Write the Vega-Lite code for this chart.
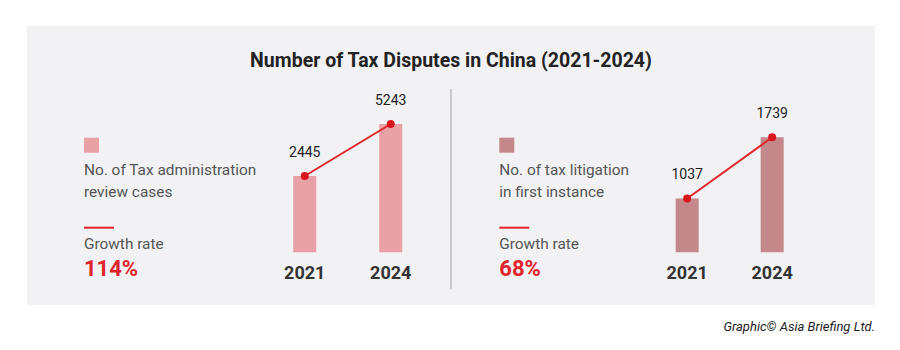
{
  "$schema": "https://vega.github.io/schema/vega-lite/v6.json",
  "width": 848,
  "height": 279,
  "autosize": {"type": "none"},
  "padding": {"left": 27, "top": 26, "right": 25, "bottom": 45},
  "background": "#ffffff",
  "view": {"fill": "#f2f2f4", "stroke": null},
  "config": {"font": "Roboto"},
  "datasets": {
    "cases": [
      {"panel": "left", "year": 2021, "value": 2445},
      {"panel": "left", "year": 2024, "value": 5243},
      {"panel": "right", "year": 2021, "value": 1037},
      {"panel": "right", "year": 2024, "value": 1739}
    ],
    "panels": [
      {"panel": "left", "series": ["No. of Tax administration", "review cases"], "growth": "114%"},
      {"panel": "right", "series": ["No. of tax litigation", "in first instance"], "growth": "68%"}
    ]
  },
  "resolve": {"scale": {"x": "independent", "y": "independent", "color": "independent"}},
  "layer": [
    {
      "data": {"name": "panels"},
      "layer": [
        {
          "mark": {"type": "square", "size": 225, "opacity": 1},
          "encoding": {
            "x": {"field": "panel", "type": "nominal", "axis": null, "bandPosition": 0.02, "scale": {"type": "band", "domain": ["left", "right"], "paddingInner": 0.0953, "paddingOuter": 0.0686, "align": 1}},
            "y": {"datum": 119.2, "type": "quantitative", "axis": null, "scale": {"domain": [0, 279], "reverse": true, "nice": false, "zero": false}},
            "color": {"field": "panel", "type": "nominal", "legend": null, "scale": {"domain": ["left", "right"], "range": ["#e8a1a5", "#c4878a"]}}
          }
        },
        {
          "mark": {"type": "text", "align": "left", "baseline": "alphabetic", "fontSize": 15.4, "lineHeight": 22, "color": "#555555"},
          "encoding": {
            "x": {"field": "panel", "type": "nominal", "axis": null, "bandPosition": 0, "scale": {"type": "band", "domain": ["left", "right"], "paddingInner": 0.0953, "paddingOuter": 0.0686, "align": 1}},
            "y": {"datum": 149.3, "type": "quantitative", "axis": null, "scale": {"domain": [0, 279], "reverse": true, "nice": false, "zero": false}},
            "text": {"field": "series"}
          }
        },
        {
          "mark": {"type": "point", "shape": "stroke", "size": 900, "strokeWidth": 2, "filled": false, "color": "#e0242b", "opacity": 1},
          "encoding": {
            "x": {"field": "panel", "type": "nominal", "axis": null, "bandPosition": 0.04, "scale": {"type": "band", "domain": ["left", "right"], "paddingInner": 0.0953, "paddingOuter": 0.0686, "align": 1}},
            "y": {"datum": 201.7, "type": "quantitative", "axis": null, "scale": {"domain": [0, 279], "reverse": true, "nice": false, "zero": false}}
          }
        },
        {
          "mark": {"type": "text", "align": "left", "baseline": "alphabetic", "fontSize": 15.4, "color": "#555555"},
          "encoding": {
            "x": {"field": "panel", "type": "nominal", "axis": null, "bandPosition": 0, "scale": {"type": "band", "domain": ["left", "right"], "paddingInner": 0.0953, "paddingOuter": 0.0686, "align": 1}},
            "y": {"datum": 223.3, "type": "quantitative", "axis": null, "scale": {"domain": [0, 279], "reverse": true, "nice": false, "zero": false}},
            "text": {"value": "Growth rate"}
          }
        },
        {
          "mark": {"type": "text", "align": "left", "baseline": "alphabetic", "fontSize": 22, "fontWeight": "bold", "color": "#e0242b"},
          "encoding": {
            "x": {"field": "panel", "type": "nominal", "axis": null, "bandPosition": 0, "scale": {"type": "band", "domain": ["left", "right"], "paddingInner": 0.0953, "paddingOuter": 0.0686, "align": 1}},
            "y": {"datum": 249.7, "type": "quantitative", "axis": null, "scale": {"domain": [0, 279], "reverse": true, "nice": false, "zero": false}},
            "text": {"field": "growth"}
          }
        }
      ]
    },
    {
      "data": {"name": "cases"},
      "transform": [{"filter": "datum.panel === 'left'"}],
      "encoding": {
        "x": {"field": "year", "type": "quantitative", "axis": null, "scale": {"domain": [2011.4828, 2040.7241], "nice": false, "zero": false}},
        "y": {"field": "value", "type": "quantitative", "axis": null, "scale": {"domain": [-4496, 10516], "nice": false, "zero": false}}
      },
      "layer": [
        {
          "mark": {"type": "bar", "width": 23},
          "encoding": {
            "y2": {"datum": -1660},
            "color": {"field": "panel", "type": "nominal", "legend": null, "scale": {"domain": ["left", "right"], "range": ["#e8a1a5", "#c4878a"]}}
          }
        },
        {"mark": {"type": "line", "color": "#e0242b", "strokeWidth": 2}},
        {"mark": {"type": "circle", "size": 64, "color": "#d9151e", "opacity": 1}},
        {
          "mark": {"type": "text", "dy": -23, "baseline": "middle", "fontSize": 14, "color": "#222222"},
          "encoding": {"text": {"field": "value", "type": "quantitative", "format": "d"}}
        },
        {
          "mark": {"type": "text", "dy": 27, "baseline": "alphabetic", "fontSize": 18, "fontWeight": "bold", "color": "#333333"},
          "encoding": {"y": {"datum": -1660}, "text": {"field": "year", "type": "quantitative", "format": "d"}}
        }
      ]
    },
    {
      "data": {"name": "cases"},
      "transform": [{"filter": "datum.panel === 'right'"}],
      "encoding": {
        "x": {"field": "year", "type": "quantitative", "axis": null, "scale": {"domain": [1997.8721, 2027.4535], "nice": false, "zero": false}},
        "y": {"field": "value", "type": "quantitative", "axis": null, "scale": {"domain": [-184.6, 3015.6], "nice": false, "zero": false}}
      },
      "layer": [
        {
          "mark": {"type": "bar", "width": 23},
          "encoding": {
            "y2": {"datum": 420},
            "color": {"field": "panel", "type": "nominal", "legend": null, "scale": {"domain": ["left", "right"], "range": ["#e8a1a5", "#c4878a"]}}
          }
        },
        {"mark": {"type": "line", "color": "#e0242b", "strokeWidth": 2}},
        {"mark": {"type": "circle", "size": 64, "color": "#d9151e", "opacity": 1}},
        {
          "mark": {"type": "text", "dy": -23, "baseline": "middle", "fontSize": 14, "color": "#222222"},
          "encoding": {"text": {"field": "value", "type": "quantitative", "format": "d"}}
        },
        {
          "mark": {"type": "text", "dy": 27, "baseline": "alphabetic", "fontSize": 18, "fontWeight": "bold", "color": "#333333"},
          "encoding": {"y": {"datum": 420}, "text": {"field": "year", "type": "quantitative", "format": "d"}}
        }
      ]
    },
    {
      "data": {"name": "panels"},
      "transform": [{"filter": "datum.panel === 'right'"}],
      "layer": [
        {
          "mark": {"type": "rule", "color": "#b5b5b5", "strokeWidth": 1.3},
          "encoding": {
            "x": {"field": "panel", "type": "nominal", "axis": null, "bandPosition": 0, "scale": {"type": "band", "domain": ["left", "right"], "paddingInner": 0, "paddingOuter": 0}},
            "y": {"datum": 63, "type": "quantitative", "axis": null, "scale": {"domain": [0, 279], "reverse": true, "nice": false, "zero": false}},
            "y2": {"datum": 263.3}
          }
        },
        {
          "mark": {"type": "text", "align": "center", "baseline": "alphabetic", "fontSize": 19.5, "fontWeight": "bold", "color": "#222222"},
          "encoding": {
            "x": {"field": "panel", "type": "nominal", "axis": null, "bandPosition": 0, "scale": {"type": "band", "domain": ["left", "right"], "paddingInner": 0, "paddingOuter": 0}},
            "y": {"datum": 41.3, "type": "quantitative", "axis": null, "scale": {"domain": [0, 279], "reverse": true, "nice": false, "zero": false}},
            "text": {"value": "Number of Tax Disputes in China (2021-2024)"}
          }
        },
        {
          "mark": {"type": "text", "align": "right", "baseline": "alphabetic", "fontSize": 13, "fontStyle": "italic", "color": "#222222"},
          "encoding": {
            "x": {"field": "panel", "type": "nominal", "axis": null, "bandPosition": 1, "scale": {"type": "band", "domain": ["left", "right"], "paddingInner": 0, "paddingOuter": 0}},
            "y": {"datum": 305, "type": "quantitative", "axis": null, "scale": {"domain": [0, 279], "reverse": true, "nice": false, "zero": false}},
            "text": {"value": "Graphic© Asia Briefing Ltd."}
          }
        }
      ]
    }
  ]
}
